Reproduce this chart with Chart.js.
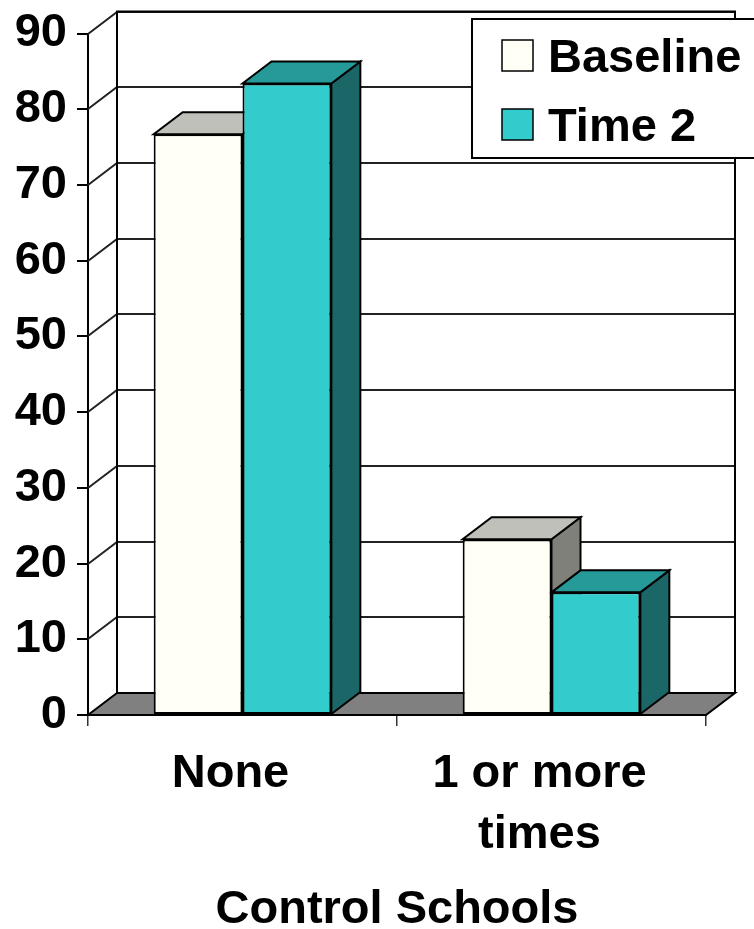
<!DOCTYPE html>
<html>
<head>
<meta charset="utf-8">
<script src="https://cdn.jsdelivr.net/npm/chart.js@4"></script>
<style>
  html, body { margin: 0; padding: 0; background: #fff; }
</style>
</head>
<body>
<canvas id="myChart" width="754" height="929"></canvas>
<script>
// percentages per category
const categories = [["None"], ["1 or more", "times"]];
const baseline = [76.7, 23.2];
const time2 = [83.4, 16.2];
const seriesNames = ["Baseline", "Time 2"];
const axisTitle = "Control Schools";
const yMin = 0, yMax = 90, yStep = 10;

// depth of the fake 3d box
const DX = 29, DY = 22;
const FONT = "'Liberation Sans', Arial, sans-serif";

function poly(ctx, pts, fill) {
  ctx.beginPath();
  ctx.moveTo(pts[0][0], pts[0][1]);
  for (let i = 1; i < pts.length; i++) ctx.lineTo(pts[i][0], pts[i][1]);
  ctx.closePath();
  if (fill) {
    ctx.fillStyle = fill;
    ctx.fill();
  }
  ctx.stroke();
}

const depthPlugin = {
  id: "depth",
  beforeDatasetsDraw(chart) {
    const ctx = chart.ctx;
    const { left, right, top, bottom } = chart.chartArea;
    const y = chart.scales.y;
    ctx.save();
    ctx.lineJoin = "miter";

    // floor
    ctx.lineWidth = 2;
    ctx.strokeStyle = "#000";
    poly(ctx, [[left, bottom], [right, bottom], [right + DX, bottom - DY], [left + DX, bottom - DY]], "#808080");

    // grid lines on the side wall and back wall
    ctx.lineWidth = 2;
    ctx.strokeStyle = "#222";
    y.ticks.forEach(t => {
      if (t.value === yMin) return;
      const py = Math.round(y.getPixelForValue(t.value));
      ctx.beginPath();
      ctx.moveTo(left, py);
      ctx.lineTo(left + DX, py - DY);
      ctx.lineTo(right + DX, py - DY);
      ctx.stroke();
    });

    // wall edges
    ctx.lineWidth = 2;
    ctx.strokeStyle = "#000";
    ctx.beginPath();
    ctx.moveTo(left + DX, bottom - DY);
    ctx.lineTo(left + DX, top - DY);
    ctx.lineTo(right + DX, top - DY);
    ctx.lineTo(right + DX, bottom - DY);
    ctx.stroke();

    // side and top faces of each bar, fronts come from chart.js
    chart.data.datasets.forEach((ds, i) => {
      const meta = chart.getDatasetMeta(i);
      meta.data.forEach(bar => {
        const x0 = bar.x - bar.width / 2, x1 = bar.x + bar.width / 2;
        const yt = bar.y, yb = bar.base;
        poly(ctx, [[x1, yt], [x1 + DX, yt - DY], [x1 + DX, yb - DY], [x1, yb]], ds.sideColor);
        poly(ctx, [[x0, yt], [x1, yt], [x1 + DX, yt - DY], [x0 + DX, yt - DY]], ds.topColor);
      });
    });
    ctx.restore();
  },
  afterDraw(chart) {
    // legend box sitting over the top right corner
    const ctx = chart.ctx;
    ctx.save();
    ctx.fillStyle = "#fff";
    ctx.strokeStyle = "#000";
    ctx.lineWidth = 2;
    ctx.fillRect(472, 19, 300, 139);
    ctx.strokeRect(472, 19, 300, 139);
    ctx.font = "bold 47px " + FONT;
    ctx.textBaseline = "alphabetic";
    ctx.textAlign = "left";
    chart.data.datasets.forEach((ds, i) => {
      const sy = 40 + i * 69;
      ctx.fillStyle = ds.backgroundColor;
      ctx.lineWidth = 1.5;
      ctx.fillRect(502, sy, 31, 31);
      ctx.strokeRect(502, sy, 31, 31);
      ctx.fillStyle = "#000";
      ctx.fillText(ds.label, 548, sy + 32);
    });
    ctx.restore();
  }
};

const ctx = document.getElementById("myChart").getContext("2d");
new Chart(ctx, {
  type: "bar",
  data: {
    labels: categories,
    datasets: [
      {
        label: seriesNames[0],
        data: baseline,
        backgroundColor: "#FFFFF5",
        topColor: "#BFC0B9",
        sideColor: "#80807A",
        borderColor: "#000",
        borderWidth: 2,
        borderSkipped: false,
      },
      {
        label: seriesNames[1],
        data: time2,
        backgroundColor: "#33CCCC",
        topColor: "#269999",
        sideColor: "#1B6666",
        borderColor: "#000",
        borderWidth: 2,
        borderSkipped: false,
      },
    ],
  },
  options: {
    responsive: false,
    animation: false,
    devicePixelRatio: 1,
    categoryPercentage: 0.575,
    barPercentage: 1,
    layout: { padding: { top: 31, right: 48, left: 0, bottom: 0 } },
    plugins: { legend: { display: false }, tooltip: { enabled: false } },
    scales: {
      x: {
        grid: { drawOnChartArea: false, tickLength: 11, color: "#333", lineWidth: 1.5 },
        border: { color: "#000", width: 2 },
        ticks: {
          color: "#000",
          font: { family: FONT, size: 47, weight: "bold", lineHeight: 1.3 },
          padding: 17,
          labelOffset: -12,
          maxRotation: 0,
          autoSkip: false,
        },
        title: {
          display: true,
          text: axisTitle,
          color: "#000",
          font: { family: FONT, size: 47, weight: "bold", lineHeight: 0.8 },
          padding: 0,
        },
        afterFit(scale) { scale.height = 214; },
      },
      y: {
        min: yMin,
        max: yMax,
        grid: { drawOnChartArea: false, tickLength: 11, color: "#000", lineWidth: 2 },
        border: { color: "#000", width: 2 },
        ticks: {
          stepSize: yStep,
          color: "#000",
          font: { family: FONT, size: 47, weight: "bold", lineHeight: 1 },
          padding: 10,
        },
        afterFit(scale) { scale.width = 88; },
      },
    },
  },
  plugins: [depthPlugin],
});
</script>
</body>
</html>
